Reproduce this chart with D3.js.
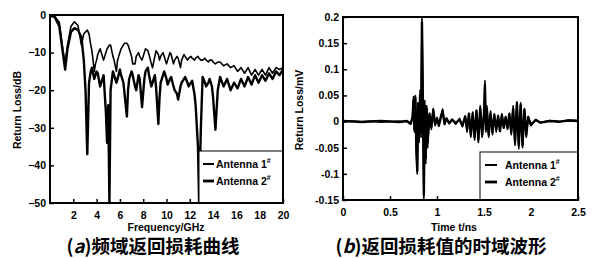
<!DOCTYPE html>
<html>
<head>
<meta charset="utf-8">
<script src="https://cdn.jsdelivr.net/npm/d3@7"></script>
<style>
  html, body { margin: 0; padding: 0; background: #fff; }
  text { font-family: "Liberation Sans", Arial, sans-serif; fill: #000; }
</style>
</head>
<body>
<div id="chart"></div>
<script>
// (a) frequency domain return loss
const freqGHz = [0, 0.4, 0.8, 1.1, 1.3, 1.5, 1.8, 2.1, 2.4, 2.7, 2.9, 3.05, 3.2, 3.35, 3.5, 3.6, 3.8, 3.9, 4.0, 4.1, 4.3, 4.4, 4.6, 4.8, 4.9, 5.0, 5.1, 5.2, 5.4, 5.5, 5.7, 5.8, 6.0, 6.1, 6.3, 6.4, 6.6, 6.7, 6.8, 7.0, 7.1, 7.3, 7.4, 7.6, 7.7, 7.9, 8.1, 8.2, 8.4, 8.5, 8.7, 8.8, 9.0, 9.1, 9.3, 9.4, 9.5, 9.7, 9.8, 10.0, 10.1, 10.3, 10.4, 10.6, 10.7, 10.9, 11.0, 11.2, 11.3, 11.5, 11.6, 11.8, 11.9, 12.1, 12.2, 12.4, 12.5, 12.7, 12.8, 12.95, 13.1, 13.3, 13.4, 13.6, 13.7, 13.9, 14.0, 14.2, 14.4, 14.6, 14.9, 15.2, 15.5, 15.8, 16.1, 16.4, 16.7, 17.0, 17.3, 17.6, 17.9, 18.2, 18.5, 18.8, 19.1, 19.4, 19.7, 20];
const lossAnt1 = [-0.2, -0.3, -2, -9, -13, -8, -3, -1.8, -2.8, -8, -5, -4.5, -4, -5, -8, -9.5, -15, -13, -12, -10.5, -9, -10, -12, -10, -9, -8.5, -8, -8, -11, -12, -15, -12, -10, -9, -8, -7.5, -7.5, -8, -9, -11, -13, -13, -11, -10, -11, -12, -10, -9, -9.5, -10.5, -13, -14, -11, -9.5, -10.5, -12, -11, -10, -11, -13, -12, -10, -10.5, -13, -12, -11, -11.5, -14, -12, -10.5, -11, -12, -11.5, -11, -11.5, -12, -11.5, -11, -11.5, -12, -12, -11.5, -12, -12.5, -12, -12, -12.5, -13, -12.5, -12.5, -13.5, -13, -14, -13.5, -15, -14, -15.5, -14, -16, -14.5, -16, -14.5, -16, -14, -15.5, -14, -14.5, -14];
const lossAnt2 = [-0.3, -0.5, -3, -10, -14.5, -9, -4.5, -3.5, -4, -6, -12, -20, -37, -18, -15, -14, -17, -16, -15, -15.5, -19, -18, -16, -26, -34, -24, -50, -20, -15, -16, -18, -17, -14.5, -16, -18, -21, -27, -20, -17, -15, -16, -19, -20, -16, -17, -24.5, -17, -15, -14, -16, -19, -18, -16, -19, -29, -22, -18, -16, -15, -17, -18.5, -17, -16.5, -19, -20, -21, -22.5, -19, -18, -17, -16.5, -18, -19, -18, -17.5, -21, -24, -35, -50, -30, -16.5, -18, -19, -18, -17, -19, -22, -30.5, -20, -16.5, -19, -17, -20, -18, -19.5, -17, -19, -16.5, -18.5, -16, -18, -16, -17.5, -15.5, -17, -15, -16, -14.5];
const freqTicks = [2, 4, 6, 8, 10, 12, 14, 16, 18, 20];
const lossTicks = [0, -10, -20, -30, -40, -50];

// (b) time domain waveform
const timeNs = [0, 0.1, 0.2, 0.3, 0.4, 0.5, 0.6, 0.68, 0.72, 0.74, 0.75, 0.76, 0.77, 0.78, 0.79, 0.80, 0.81, 0.82, 0.83, 0.84, 0.85, 0.86, 0.87, 0.88, 0.89, 0.90, 0.92, 0.94, 0.96, 0.98, 1.0, 1.02, 1.04, 1.06, 1.08, 1.10, 1.13, 1.16, 1.2, 1.24, 1.27, 1.3, 1.32, 1.34, 1.36, 1.38, 1.40, 1.42, 1.44, 1.46, 1.48, 1.50, 1.51, 1.52, 1.53, 1.55, 1.57, 1.59, 1.61, 1.63, 1.65, 1.67, 1.69, 1.71, 1.73, 1.75, 1.77, 1.79, 1.81, 1.83, 1.85, 1.87, 1.89, 1.91, 1.93, 1.95, 1.97, 2.0, 2.05, 2.1, 2.2, 2.3, 2.4, 2.5];
const waveAnt1 = [0.000, 0.001, 0.000, 0.001, -0.001, 0.000, 0.001, 0.000, -0.005, 0.010, 0.048, -0.020, 0.050, -0.060, -0.100, 0.030, -0.040, 0.060, -0.030, 0.198, 0.050, -0.148, 0.040, -0.080, 0.030, -0.050, 0.010, -0.015, 0.025, -0.008, 0.008, -0.005, 0.010, 0.024, -0.006, 0.005, -0.004, 0.003, -0.005, 0.006, -0.010, 0.008, -0.020, 0.012, -0.030, 0.018, -0.035, 0.022, -0.040, 0.030, -0.030, 0.010, 0.078, -0.020, 0.030, -0.030, 0.020, -0.025, 0.015, -0.020, 0.012, -0.015, 0.015, -0.010, 0.010, -0.015, 0.012, -0.025, 0.030, -0.045, 0.038, -0.052, 0.036, -0.050, 0.025, -0.030, 0.010, -0.008, 0.004, -0.002, 0.002, -0.001, 0.003, 0.002];
const waveAnt2 = [0.001, 0.000, -0.001, 0.000, 0.001, 0.000, -0.001, 0.001, -0.004, 0.008, 0.040, -0.015, 0.045, -0.050, -0.095, 0.035, -0.030, 0.050, -0.020, 0.190, 0.040, -0.140, 0.030, -0.070, 0.025, -0.040, 0.015, -0.010, 0.022, -0.005, 0.005, -0.008, 0.008, 0.020, -0.004, 0.006, -0.003, 0.004, -0.003, 0.004, -0.008, 0.010, -0.015, 0.015, -0.025, 0.015, -0.030, 0.020, -0.035, 0.025, -0.025, 0.015, 0.070, -0.015, 0.025, -0.025, 0.015, -0.020, 0.012, -0.015, 0.010, -0.018, 0.012, -0.012, 0.008, -0.012, 0.015, -0.020, 0.025, -0.040, 0.035, -0.045, 0.032, -0.045, 0.022, -0.025, 0.008, -0.006, 0.003, -0.002, 0.001, 0.000, 0.002, 0.001];
const timeTicks = [0, 0.5, 1, 1.5, 2, 2.5];
const waveTicks = [0.2, 0.15, 0.1, 0.05, 0, -0.05, -0.1, -0.15];

const seriesNames = ["Antenna 1", "Antenna 2"];

document.addEventListener("DOMContentLoaded", function() {
    const svg = d3.select("#chart")
        .append("svg")
        .attr("width", 595)
        .attr("height", 258);

    const labelFont = "bold 10.5px 'Liberation Sans', Arial, sans-serif";
    const widths = [1.6, 2.4];

    function drawPanel(opt) {
        const x = d3.scaleLinear().domain(opt.xDomain).range([opt.left, opt.right]);
        const y = d3.scaleLinear().domain(opt.yDomain).range([opt.bottom, opt.top]);
        const g = svg.append("g");

        svg.append("defs").append("clipPath").attr("id", opt.id + "-clip")
            .append("rect")
            .attr("x", opt.left).attr("y", opt.top - 1)
            .attr("width", opt.right - opt.left).attr("height", opt.bottom - opt.top + 2);

        // axes with inward ticks
        const xAxis = d3.axisBottom(x).tickValues(opt.xTicks).tickSize(-4).tickPadding(9)
            .tickFormat(opt.xFormat);
        const yAxis = d3.axisLeft(y).tickValues(opt.yTicks).tickSize(-4).tickPadding(4)
            .tickFormat(opt.yFormat);

        g.append("g").attr("transform", `translate(0,${opt.bottom})`).call(xAxis)
            .call(a => a.select(".domain").remove())
            .call(a => a.selectAll("line").attr("stroke-width", 1.5))
            .call(a => a.selectAll("text").style("font", labelFont));
        g.append("g").attr("transform", `translate(${opt.left},0)`).call(yAxis)
            .call(a => a.select(".domain").remove())
            .call(a => a.selectAll("line").attr("stroke-width", 1.5))
            .call(a => a.selectAll("text").style("font", labelFont));

        // axis titles
        svg.append("text")
            .attr("x", opt.xTitleX).attr("y", 231)
            .attr("text-anchor", "middle")
            .style("font", labelFont)
            .text(opt.xTitle);
        svg.append("text")
            .attr("transform", `translate(${opt.yTitleX},110) rotate(-90)`)
            .attr("text-anchor", "middle")
            .style("font", labelFont)
            .text(opt.yTitle);

        // curves
        const line = d3.line()
            .x((d, i) => x(opt.xs[i]))
            .y(d => y(d));
        opt.series.forEach(function(s, k) {
            g.append("path")
                .datum(s)
                .attr("d", line)
                .attr("fill", "none")
                .attr("stroke", "#000")
                .attr("stroke-width", widths[k])
                .attr("stroke-linejoin", "round")
                .attr("clip-path", `url(#${opt.id}-clip)`);
        });

        // legend
        const lg = g.append("g");
        lg.append("rect")
            .attr("x", opt.legend.x).attr("y", opt.legend.y)
            .attr("width", opt.right - opt.legend.x).attr("height", opt.bottom - opt.legend.y)
            .attr("fill", "#fff").attr("stroke", "#000").attr("stroke-width", 1);
        seriesNames.forEach(function(name, k) {
            const ly = opt.legend.y + 13 + k * 17;
            lg.append("line")
                .attr("x1", opt.legend.x + opt.legend.lx1).attr("x2", opt.legend.x + opt.legend.lx2)
                .attr("y1", ly).attr("y2", ly)
                .attr("stroke", "#000").attr("stroke-width", widths[k] + 0.4);
            const t = lg.append("text")
                .attr("x", opt.legend.x + opt.legend.tx).attr("y", ly + 4)
                .style("font", labelFont);
            t.append("tspan").text(name);
            t.append("tspan").attr("dy", -5).style("font-size", "7px").text("#");
        });

        // frame
        g.append("rect")
            .attr("x", opt.left).attr("y", opt.top)
            .attr("width", opt.right - opt.left).attr("height", opt.bottom - opt.top)
            .attr("fill", "none").attr("stroke", "#000").attr("stroke-width", 2);

        // caption
        const cap = svg.append("text")
            .attr("x", opt.capX).attr("y", 253)
            .attr("text-anchor", "middle")
            .style("font", "bold 18.5px 'Noto Sans CJK SC', sans-serif");
        cap.append("tspan").text("(");
        cap.append("tspan").style("font-style", "italic").text(opt.capLetter);
        cap.append("tspan").text(")" + opt.capText);
    }

    drawPanel({
        id: "freq",
        left: 50, right: 283, top: 15, bottom: 203,
        xDomain: [0, 20], yDomain: [-50, 0],
        xTicks: freqTicks, yTicks: lossTicks,
        xFormat: d3.format("d"), yFormat: d3.format("d"),
        xs: freqGHz, series: [lossAnt1, lossAnt2],
        legend: { x: 199, y: 151, lx1: 4, lx2: 15, tx: 17 },
        xTitle: "Frequency/GHz", xTitleX: 166,
        yTitle: "Return Loss/dB", yTitleX: 21,
        capX: 153, capLetter: "a", capText: "频域返回损耗曲线"
    });

    drawPanel({
        id: "time",
        left: 343, right: 578, top: 17, bottom: 200,
        xDomain: [0, 2.5], yDomain: [-0.15, 0.2],
        xTicks: timeTicks, yTicks: waveTicks,
        xFormat: d => String(d), yFormat: d => String(d),
        xs: timeNs, series: [waveAnt1, waveAnt2],
        legend: { x: 480, y: 152, lx1: 5, lx2: 17, tx: 25 },
        xTitle: "Time t/ns", xTitleX: 454,
        yTitle: "Return Loss/mV", yTitleX: 303,
        capX: 441, capLetter: "b", capText: "返回损耗值的时域波形"
    });
});
</script>
</body>
</html>
